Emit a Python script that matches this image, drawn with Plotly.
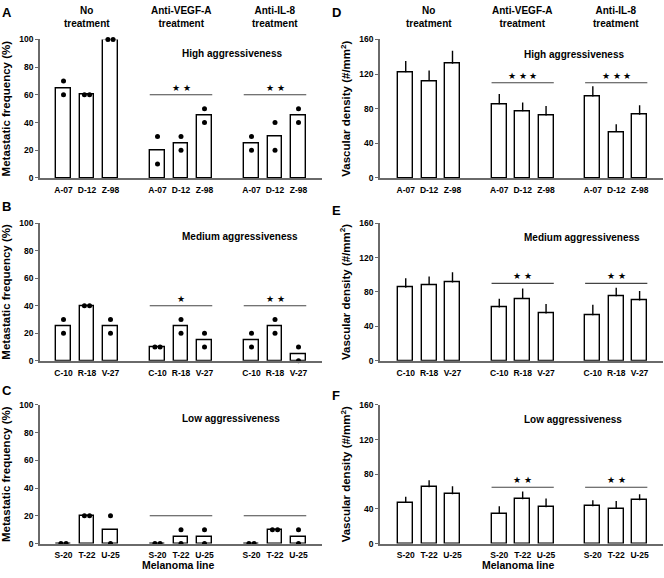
import plotly.graph_objects as go

# ---------------- data ----------------
treatments = ["No<br>treatment", "Anti-VEGF-A<br>treatment", "Anti-IL-8<br>treatment"]
lines_high = ["A-07", "D-12", "Z-98"]
lines_medium = ["C-10", "R-18", "V-27"]
lines_low = ["S-20", "T-22", "U-25"]
aggr_labels = ["High aggressiveness", "Medium aggressiveness", "Low aggressiveness"]

# Metastatic frequency (%) : bar = mean, two dots = individual experiments
met_high = [65, 60, 100, 20, 25, 45, 25, 30, 45]
met_high_dot1 = [70, 60, 100, 30, 30, 50, 30, 40, 50]
met_high_dot2 = [60, 60, 100, 10, 20, 40, 20, 20, 40]
met_medium = [25, 40, 25, 10, 25, 15, 15, 25, 5]
met_medium_dot1 = [30, 40, 30, 10, 30, 20, 20, 30, 10]
met_medium_dot2 = [20, 40, 20, 10, 20, 10, 10, 20, 0]
met_low = [0, 20, 10, 0, 5, 5, 0, 10, 5]
met_low_dot1 = [0, 20, 20, 0, 10, 10, 0, 10, 10]
met_low_dot2 = [0, 20, 0, 0, 0, 0, 0, 10, 0]

# Vascular density (#/mm2): mean and upper error
vd_high = [122, 112, 132, 85, 77, 72, 94, 53, 73]
vd_high_err = [13, 12, 15, 12, 10, 11, 12, 9, 11]
vd_medium = [85, 88, 91, 62, 72, 55, 53, 75, 70]
vd_medium_err = [11, 10, 12, 10, 12, 11, 12, 10, 11]
vd_low = [47, 65, 57, 34, 51, 42, 43, 40, 50]
vd_low_err = [7, 8, 9, 9, 9, 10, 7, 9, 7]

# significance brackets (treated groups only)
met_sig_level = [60, 40, 20]
met_sig_stars = [["★ ★", "★ ★"], ["★", "★ ★"], ["", ""]]
vd_sig_level = [110, 90, 65]
vd_sig_stars = [["★ ★ ★", "★ ★ ★"], ["★ ★", "★ ★"], ["★ ★", "★ ★"]]

panel_letters_left = ["A", "B", "C"]
panel_letters_right = ["D", "E", "F"]

# ---------------- layout helpers ----------------
W, H = 664, 578
FONT = "Arial, Liberation Sans, sans-serif"
AXC = "#6a6a6a"

positions = [g * 4 + i for g in range(3) for i in range(3)]
row_px = [(35, 176), (222, 362), (407, 548)]
left_px = (40, 322)
right_px = (380, 663)

def ydom(r):
    t, b = row_px[r]
    return [1 - b / H, 1 - t / H]

fig = go.Figure()
layout = dict(
    width=W, height=H, autosize=False,
    margin=dict(l=0, r=0, t=0, b=0),
    paper_bgcolor="white", plot_bgcolor="white",
    showlegend=False, bargap=0,
    font=dict(family=FONT, color="black"),
)
annotations = []
shapes = []

met_data = [
    (met_high, met_high_dot1, met_high_dot2, lines_high),
    (met_medium, met_medium_dot1, met_medium_dot2, lines_medium),
    (met_low, met_low_dot1, met_low_dot2, lines_low),
]
vd_data = [
    (vd_high, vd_high_err, lines_high),
    (vd_medium, vd_medium_err, lines_medium),
    (vd_low, vd_low_err, lines_low),
]

tickfont = dict(family=FONT, size=8.5, color="black", weight="bold")

for r in range(3):
    for c in range(2):
        idx = r * 2 + c + 1
        xa = "x" if idx == 1 else f"x{idx}"
        ya = "y" if idx == 1 else f"y{idx}"
        xkey = "xaxis" if idx == 1 else f"xaxis{idx}"
        ykey = "yaxis" if idx == 1 else f"yaxis{idx}"
        px = left_px if c == 0 else right_px
        xrange = [-1, 11] if c == 0 else [-1.1, 11]
        if c == 0:
            bars, d1, d2, names = met_data[r]
        else:
            bars, err, names = vd_data[r]
        ticktext = names * 3
        layout[xkey] = dict(
            domain=[px[0] / W, px[1] / W], range=xrange, anchor=ya,
            tickvals=positions, ticktext=ticktext, tickfont=tickfont,
            showline=True, linecolor=AXC, linewidth=1.5,
            ticks="outside", ticklen=3, tickcolor="rgba(0,0,0,0)",
            showgrid=False, zeroline=False, fixedrange=True,
        )
        ymax = 100 if c == 0 else 160
        dt = 20 if c == 0 else 40
        layout[ykey] = dict(
            domain=ydom(r), range=[0, ymax], anchor=xa,
            tickvals=list(range(0, ymax + 1, dt)), tickfont=tickfont,
            showline=True, linecolor=AXC, linewidth=1.5,
            ticks="outside", ticklen=3, tickcolor=AXC, tickwidth=1.2,
            showgrid=False, zeroline=False, fixedrange=True,
            title=dict(
                text="Metastatic frequency (%)" if c == 0 else "Vascular density (#/mm<sup>2</sup>)",
                font=dict(family=FONT, size=11.5, weight="bold"), standoff=6,
            ),
        )
        if c == 0:
            fig.add_trace(go.Bar(
                x=positions, y=bars, width=0.63, xaxis=xa, yaxis=ya,
                marker=dict(color="white", line=dict(color="black", width=1.4)),
            ))
            dx1, dx2, dy1, dy2 = [], [], [], []
            for p, a, b in zip(positions, d1, d2):
                off = 0.11 if a == b else 0.0
                dx1.append(p - off); dx2.append(p + off)
                dy1.append(a); dy2.append(b)
            fig.add_trace(go.Scatter(
                x=dx1 + dx2, y=dy1 + dy2, mode="markers", xaxis=xa, yaxis=ya,
                marker=dict(color="black", size=5), cliponaxis=False,
            ))
            levels, stars = met_sig_level[r], met_sig_stars[r]
            aggr_y = 90
        else:
            fig.add_trace(go.Bar(
                x=positions, y=bars, width=0.64, xaxis=xa, yaxis=ya,
                marker=dict(color="white", line=dict(color="black", width=1.4)),
                error_y=dict(type="data", symmetric=False, array=err,
                             arrayminus=[0] * len(err), width=0,
                             thickness=1.4, color="black"),
            ))
            levels, stars = vd_sig_level[r], vd_sig_stars[r]
            aggr_y = 143
        # significance brackets
        for g in (1, 2):
            shapes.append(dict(type="line", xref=xa, yref=ya,
                               x0=g * 4 - 0.33, x1=g * 4 + 2 + 0.33,
                               y0=levels, y1=levels,
                               line=dict(color="#444", width=1.1)))
            if stars[g - 1]:
                annotations.append(dict(
                    x=g * 4 + 1, y=levels, xref=xa, yref=ya,
                    text=stars[g - 1], showarrow=False, yanchor="bottom",
                    yshift=0, font=dict(size=9, color="black"),
                ))
        # aggressiveness label
        annotations.append(dict(
            x=4.95, y=aggr_y, xref=xa, yref=ya, text=aggr_labels[r],
            showarrow=False, xanchor="left", yanchor="middle",
            font=dict(family=FONT, size=10, weight="bold"),
        ))
        # panel letter
        letter = panel_letters_left[r] if c == 0 else panel_letters_right[r]
        letter_top = [0, 197, 385][r] + (0 if c == 0 else [0, 4, 5][r])
        annotations.append(dict(
            x=(0 if c == 0 else 330) / W, y=1 - letter_top / H,
            xref="paper", yref="paper", text=letter, showarrow=False,
            xanchor="left", yanchor="top", yshift=2,
            font=dict(family=FONT, size=13, weight="bold"),
        ))
        # treatment headers (top row only)
        if r == 0:
            for g in range(3):
                annotations.append(dict(
                    x=g * 4 + 1, y=1, xref=xa, yref="paper",
                    text=treatments[g], showarrow=False,
                    xanchor="center", yanchor="top", yshift=2,
                    font=dict(family=FONT, size=10, weight="bold"),
                ))
        # bottom x title
        if r == 2:
            annotations.append(dict(
                x=(px[0] + px[1]) / 2 / W - 0.004, y=1 - 570 / H,
                xref="paper", yref="paper", text="Melanoma line",
                showarrow=False, xanchor="center", yanchor="middle",
                font=dict(family=FONT, size=10.5, weight="bold"),
            ))

layout["annotations"] = annotations
layout["shapes"] = shapes
fig.update_layout(**layout)
fig.write_html(
    "out.html",
    config={"displayModeBar": False},
    post_script="document.body.style.margin='0';document.body.style.overflow='hidden';",
)
